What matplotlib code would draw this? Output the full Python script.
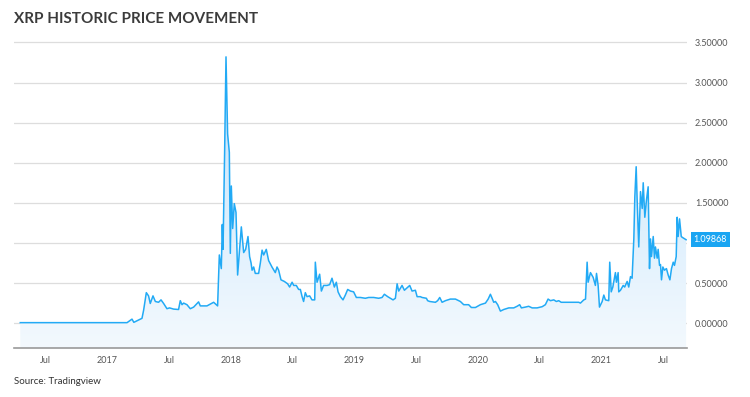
import numpy as np
import matplotlib
matplotlib.use("Agg")
import matplotlib.pyplot as plt
from matplotlib.colors import LinearSegmentedColormap

title = "XRP HISTORIC PRICE MOVEMENT"
source = "Source: Tradingview"
last_price_label = "1.09868"

# time in decimal years, price in USD
years = [2016.296, 2017.160, 2017.200, 2017.215, 2017.281, 2017.294, 2017.316, 2017.334, 2017.348, 2017.370,
         2017.389, 2017.415, 2017.435, 2017.456, 2017.483, 2017.504, 2017.537, 2017.577, 2017.591, 2017.605,
         2017.618, 2017.645, 2017.672, 2017.699, 2017.739, 2017.753, 2017.807, 2017.861, 2017.893, 2017.907,
         2017.923, 2017.931, 2017.937, 2017.950, 2017.961, 2017.974, 2017.988, 2017.996, 2018.004, 2018.015,
         2018.028, 2018.042, 2018.055, 2018.085, 2018.104, 2018.120, 2018.139, 2018.152, 2018.164, 2018.172,
         2018.185, 2018.198, 2018.225, 2018.239, 2018.253, 2018.266, 2018.287, 2018.306, 2018.333, 2018.360,
         2018.374, 2018.387, 2018.406, 2018.433, 2018.460, 2018.476, 2018.496, 2018.509, 2018.530, 2018.549,
         2018.563, 2018.577, 2018.589, 2018.603, 2018.617, 2018.638, 2018.657, 2018.679, 2018.684, 2018.698,
         2018.719, 2018.733, 2018.751, 2018.779, 2018.800, 2018.819, 2018.838, 2018.854, 2018.868, 2018.887,
         2018.908, 2018.927, 2018.946, 2018.968, 2018.994, 2019.016, 2019.049, 2019.089, 2019.116, 2019.156,
         2019.197, 2019.224, 2019.243, 2019.270, 2019.313, 2019.332, 2019.346, 2019.359, 2019.386, 2019.405,
         2019.427, 2019.448, 2019.467, 2019.494, 2019.508, 2019.534, 2019.548, 2019.583, 2019.593, 2019.610,
         2019.656, 2019.674, 2019.691, 2019.710, 2019.737, 2019.777, 2019.818, 2019.858, 2019.885, 2019.925,
         2019.947, 2019.980, 2020.020, 2020.061, 2020.083, 2020.101, 2020.115, 2020.128, 2020.142, 2020.160,
         2020.182, 2020.209, 2020.250, 2020.290, 2020.317, 2020.338, 2020.352, 2020.384, 2020.411, 2020.439,
         2020.479, 2020.520, 2020.546, 2020.568, 2020.587, 2020.614, 2020.635, 2020.654, 2020.674, 2020.722,
         2020.776, 2020.816, 2020.830, 2020.857, 2020.871, 2020.884, 2020.892, 2020.911, 2020.933, 2020.951,
         2020.960, 2020.973, 2020.984, 2021.006, 2021.019, 2021.032, 2021.059, 2021.067, 2021.079, 2021.092,
         2021.113, 2021.121, 2021.135, 2021.140, 2021.154, 2021.176, 2021.188, 2021.208, 2021.221, 2021.235,
         2021.248, 2021.262, 2021.270, 2021.281, 2021.289, 2021.302, 2021.316, 2021.330, 2021.338, 2021.351,
         2021.364, 2021.378, 2021.389, 2021.397, 2021.405, 2021.419, 2021.429, 2021.437, 2021.451, 2021.459,
         2021.470, 2021.478, 2021.486, 2021.497, 2021.510, 2021.526, 2021.540, 2021.554, 2021.567, 2021.581,
         2021.591, 2021.605, 2021.613, 2021.621, 2021.632, 2021.646, 2021.654, 2021.685]
prices = [0.006, 0.006, 0.05, 0.01, 0.06, 0.16, 0.38, 0.34, 0.245, 0.34,
          0.27, 0.26, 0.29, 0.245, 0.18, 0.19, 0.175, 0.17, 0.28, 0.23,
          0.25, 0.23, 0.18, 0.20, 0.265, 0.215, 0.215, 0.26, 0.215, 0.85,
          0.68, 1.23, 0.92, 2.15, 3.32, 2.36, 2.13, 0.87, 1.71, 1.18,
          1.49, 1.38, 0.60, 1.20, 0.88, 0.92, 1.08, 0.83, 0.75, 0.66,
          0.70, 0.62, 0.62, 0.75, 0.91, 0.85, 0.92, 0.78, 0.70, 0.63,
          0.70, 0.66, 0.54, 0.52, 0.49, 0.45, 0.51, 0.47, 0.47, 0.42,
          0.42, 0.33, 0.27, 0.38, 0.33, 0.34, 0.29, 0.29, 0.76, 0.51,
          0.61, 0.40, 0.47, 0.47, 0.48, 0.56, 0.45, 0.51, 0.39, 0.33,
          0.29, 0.35, 0.42, 0.40, 0.39, 0.32, 0.32, 0.31, 0.32, 0.32,
          0.31, 0.32, 0.36, 0.33, 0.29, 0.31, 0.49, 0.40, 0.47, 0.41,
          0.44, 0.47, 0.40, 0.41, 0.33, 0.33, 0.32, 0.31, 0.28, 0.27,
          0.26, 0.28, 0.32, 0.26, 0.28, 0.30, 0.30, 0.27, 0.23, 0.23,
          0.195, 0.195, 0.23, 0.25, 0.30, 0.36, 0.31, 0.26, 0.27, 0.23,
          0.15, 0.17, 0.19, 0.19, 0.21, 0.23, 0.19, 0.20, 0.21, 0.19,
          0.19, 0.205, 0.23, 0.30, 0.28, 0.29, 0.27, 0.28, 0.26, 0.26,
          0.26, 0.26, 0.25, 0.29, 0.30, 0.76, 0.51, 0.63, 0.57, 0.47,
          0.62, 0.47, 0.20, 0.27, 0.35, 0.29, 0.28, 0.76, 0.39, 0.45,
          0.63, 0.51, 0.63, 0.39, 0.41, 0.47, 0.45, 0.52, 0.45, 0.58,
          0.56, 1.05, 1.57, 1.95, 1.53, 0.95, 1.64, 1.43, 1.75, 1.32,
          1.53, 1.70, 0.68, 1.05, 0.83, 1.08, 0.81, 0.95, 0.81, 0.92,
          0.72, 0.73, 0.54, 0.70, 0.66, 0.68, 0.60, 0.54, 0.68, 0.76,
          0.72, 0.83, 1.32, 1.08, 1.30, 1.08, 1.07, 1.04]

x_tick_pos = [2016.5, 2017.0, 2017.5, 2018.0, 2018.5, 2019.0, 2019.5, 2020.0, 2020.5, 2021.0, 2021.5]
x_tick_labels = ["Jul", "2017", "Jul", "2018", "Jul", "2019", "Jul", "2020", "Jul", "2021", "Jul"]
y_ticks = [0.0, 0.5, 1.0, 1.5, 2.0, 2.5, 3.0, 3.5]

plt.rcParams['font.family'] = ['Lato', 'DejaVu Sans']

fig = plt.figure(figsize=(7.5, 3.97), dpi=100)
ax = fig.add_axes([14/750, 49/397, (686.7-14)/750, 312/397])
xmin, xmax = 2016.245, 2021.69
ymin, ymax = -0.31, 3.58
ax.set_xlim(xmin, xmax)
ax.set_ylim(ymin, ymax)

line_color = "#22aaf5"
x = np.array(years)
y = np.array(prices)

# gradient fill
poly = ax.fill_between(x, y, ymin, color="none", linewidth=0)
cmap = LinearSegmentedColormap.from_list("g", ["#f3f9fe", "#c0e2fb"])
grad = np.linspace(0, 1, 256).reshape(-1, 1)
img = ax.imshow(grad, aspect="auto", cmap=cmap, origin="lower",
                extent=[xmin, xmax, ymin, 3.4], zorder=1)
path = poly.get_paths()[0]
img.set_clip_path(path, transform=ax.transData)

ax.plot(x, y, color=line_color, lw=1.1, zorder=3)

# the last-price badge covers the 1.00000 label, as in the original
ax.set_yticks(y_ticks)
ax.set_yticklabels([f"{v:.5f}" if abs(v - 1.0) > 1e-9 else "" for v in y_ticks])
ax.yaxis.tick_right()
ax.tick_params(axis="y", length=0, pad=6, labelsize=6.5, labelcolor="#555555")
ax.set_xticks(x_tick_pos)
ax.set_xticklabels(x_tick_labels)
ax.tick_params(axis="x", length=0, pad=6, labelsize=6.5, labelcolor="#555555")

ax.grid(axis="y", color="#dddddd", lw=0.9, zorder=0)
ax.set_axisbelow(True)
for s in ["top", "right", "left"]:
    ax.spines[s].set_visible(False)
ax.spines["bottom"].set_color("#9a9a9a")
ax.spines["bottom"].set_linewidth(1.2)

ax.text(1.0105, prices[-1], last_price_label, transform=ax.get_yaxis_transform(),
        ha="left", va="center", fontsize=6.5, color="white",
        bbox=dict(boxstyle="square,pad=0.35", fc="#1aa5f2", ec="none"))

fig.text(14/750, 1 - 19/397, title, ha="left", va="center", fontsize=11,
         fontweight="bold", color="#3b3b3b")
fig.text(14/750, 1 - 381/397, source, ha="left", va="center", fontsize=7,
         color="#333333")

fig.savefig("out.png", dpi=100, facecolor="white")
